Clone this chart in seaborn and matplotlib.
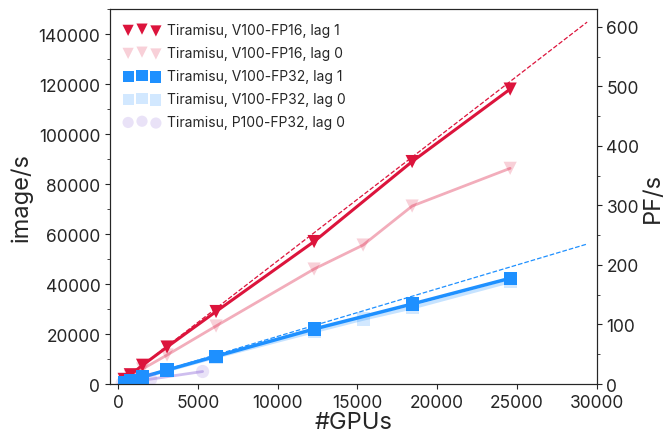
import numpy as np
import seaborn as sns
import matplotlib.pyplot as plt
from matplotlib.ticker import MultipleLocator

# Tiramisu scaling data
gpus_v100 = [384, 768, 1536, 3072, 6144, 12288, 18432, 24576]
fp16_lag1 = [1850, 3700, 7500, 14800, 29000, 57000, 89000, 118000]
fp32_lag1 = [700, 1400, 2800, 5600, 11100, 22000, 32000, 42300]

gpus_v100_lag0 = [384, 768, 1536, 3072, 6144, 12288, 15360, 18432, 24576]
fp16_lag0 = [1500, 3000, 6000, 11600, 23200, 46000, 55600, 71200, 86300]
fp32_lag0 = [680, 1350, 2700, 5400, 10800, 21000, 26000, 30500, 41000]

gpus_p100 = [256, 512, 1024, 2048, 5300]
p100_lag0 = [250, 500, 1000, 1950, 5000]

# ideal (linear) scaling references
ideal_x = [0, 29400]
ideal_fp16 = [0, 144800]
ideal_fp32 = [0, 56000]

sns.set_style("ticks")
plt.rcParams['font.family'] = ['Inter', 'DejaVu Sans']

fig = plt.figure(figsize=(6.63, 4.39), dpi=100)
ax = fig.add_axes([0.166, 0.123, 0.734, 0.854])

red = '#dc143c'
blue = '#1e90ff'
purple = '#9370db'

# ideal lines
sns.lineplot(x=ideal_x, y=ideal_fp16, ax=ax, color=red, lw=0.9, ls='--', legend=False)
sns.lineplot(x=ideal_x, y=ideal_fp32, ax=ax, color=blue, lw=0.9, ls='--', legend=False)

# lag 0 series (faded)
sns.lineplot(x=gpus_v100_lag0, y=fp16_lag0, ax=ax, color=red, lw=2, alpha=0.35, legend=False)
sns.lineplot(x=gpus_v100_lag0, y=fp32_lag0, ax=ax, color=blue, lw=2.5, alpha=0.25, legend=False)
sns.lineplot(x=gpus_p100, y=p100_lag0, ax=ax, color=purple, lw=2, alpha=0.45, legend=False)

# lag 1 series
sns.lineplot(x=gpus_v100, y=fp16_lag1, ax=ax, color=red, lw=2.2, legend=False)
sns.lineplot(x=gpus_v100, y=fp32_lag1, ax=ax, color=blue, lw=2.5, legend=False)

# markers (scatter so the legend shows three points)
sns.scatterplot(x=gpus_v100, y=fp16_lag1, ax=ax, color=red, marker='v', s=90,
                edgecolor='none', label='Tiramisu, V100-FP16, lag 1', zorder=5)
sns.scatterplot(x=gpus_v100_lag0, y=fp16_lag0, ax=ax, color=red, marker='v', s=90,
                alpha=0.2, edgecolor='none', label='Tiramisu, V100-FP16, lag 0', zorder=4)
sns.scatterplot(x=gpus_v100, y=fp32_lag1, ax=ax, color=blue, marker='s', s=90,
                edgecolor='none', label='Tiramisu, V100-FP32, lag 1', zorder=5)
sns.scatterplot(x=gpus_v100_lag0, y=fp32_lag0, ax=ax, color=blue, marker='s', s=90,
                alpha=0.2, edgecolor='none', label='Tiramisu, V100-FP32, lag 0', zorder=4)
sns.scatterplot(x=gpus_p100, y=p100_lag0, ax=ax, color=purple, marker='o', s=90,
                alpha=0.2, edgecolor='none', label='Tiramisu, P100-FP32, lag 0', zorder=4)

ax.set_xlim(-500, 30000)
ax.set_ylim(0, 150000)
ax.yaxis.set_minor_locator(MultipleLocator(10000))
ax.set_xlabel('#GPUs', fontsize=17, labelpad=0)
ax.set_ylabel('image/s', fontsize=17, labelpad=4)
ax.tick_params(labelsize=12.5)

ax2 = ax.twinx()
ax2.set_ylim(0, 630)
ax2.yaxis.set_major_locator(MultipleLocator(100))
ax2.yaxis.set_minor_locator(MultipleLocator(50))
ax2.set_ylabel('PF/s', fontsize=17, labelpad=2)
ax2.tick_params(labelsize=12.5)

ax.legend(loc='upper left', frameon=False, fontsize=10, scatterpoints=3,
          markerscale=0.85, handlelength=2.6, handletextpad=0.5,
          labelspacing=0.65, borderaxespad=0.5, borderpad=0.5)

plt.savefig('out.png', dpi=100)
